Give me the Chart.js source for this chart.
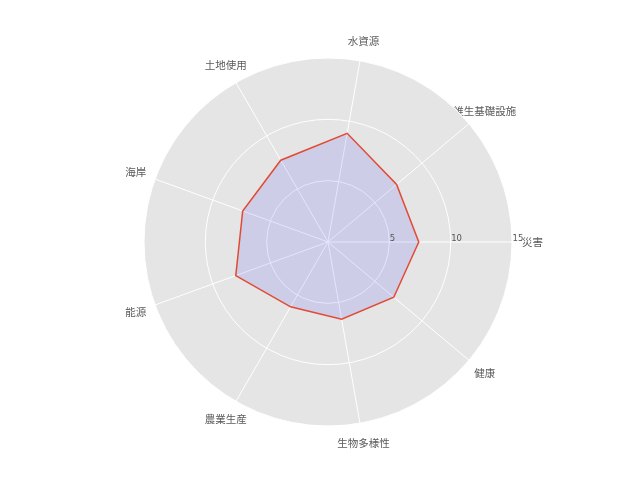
<!DOCTYPE html>
<html>
<head>
<meta charset="utf-8">
<script src="https://cdn.jsdelivr.net/npm/chart.js@4/dist/chart.umd.min.js"></script>
<style>
html,body{margin:0;padding:0;background:#fff;}
canvas{display:block;}
</style>
</head>
<body>
<canvas id="c" width="640" height="480"></canvas>
<script>
// Categories in counter-clockwise order starting at the right (0°)
const categories = ["災害", "維生基礎設施", "水資源", "土地使用", "海岸", "能源", "農業生産", "生物多様性", "健康"];
const values = [7.4, 7.3, 9.0, 7.7, 7.4, 8.0, 6.1, 6.4, 7.0];
const tickValues = [5, 10, 15];
const rMax = 15;

// Chart.js goes clockwise: keep first, reverse the rest
const cjLabels = [categories[0]].concat(categories.slice(1).reverse());
const cjValues = [values[0]].concat(values.slice(1).reverse());

const labelFont = '10.5px "Noto Sans CJK JP", "Noto Sans CJK SC", sans-serif';
const tickFont = '8.5px "DejaVu Sans", sans-serif';

const customText = {
  id: 'customText',
  beforeDraw(chart) {
    // category labels, drawn under the gray disc like the reference
    const s = chart.scales.r;
    const ctx = chart.ctx;
    ctx.save();
    ctx.font = labelFont;
    ctx.fillStyle = '#5a5a5a';
    ctx.textAlign = 'center';
    ctx.textBaseline = 'middle';
    const d = s.getDistanceFromCenterForValue(rMax) + 20.5;
    cjLabels.forEach((lab, i) => {
      const p = s.getPointPosition(i, d);
      ctx.fillText(lab, p.x, p.y);
    });
    ctx.restore();
  },
  afterDatasetsDraw(chart) {
    const s = chart.scales.r;
    const ctx = chart.ctx;
    ctx.save();
    ctx.font = tickFont;
    ctx.fillStyle = '#555555';
    ctx.textAlign = 'left';
    ctx.textBaseline = 'alphabetic';
    tickValues.forEach(v => {
      const d = s.getDistanceFromCenterForValue(v);
      ctx.fillText(String(v), s.xCenter + d + 0.5, s.yCenter - 1);
    });
    ctx.restore();
  }
};

new Chart(document.getElementById('c'), {
  type: 'radar',
  data: {
    labels: cjLabels,
    datasets: [{
      data: cjValues,
      borderColor: '#E24A33',
      borderWidth: 1.5,
      backgroundColor: 'rgba(0,0,255,0.1)',
      fill: true,
      pointRadius: 0,
      pointHoverRadius: 0,
      tension: 0
    }]
  },
  options: {
    responsive: false,
    devicePixelRatio: 1,
    animation: false,
    layout: { padding: { left: 144, right: 128, top: 58, bottom: 54 } },
    plugins: {
      legend: { display: false },
      tooltip: { enabled: false },
      title: { display: false }
    },
    scales: {
      r: {
        min: 0,
        max: rMax,
        startAngle: 90,
        backgroundColor: '#E5E5E5',
        grid: { circular: true, color: '#FFFFFF', lineWidth: 1 },
        angleLines: { display: true, color: '#FFFFFF', lineWidth: 1 },
        ticks: { display: false, stepSize: 5 },
        pointLabels: { display: false }
      }
    }
  },
  plugins: [customText]
});
</script>
</body>
</html>
